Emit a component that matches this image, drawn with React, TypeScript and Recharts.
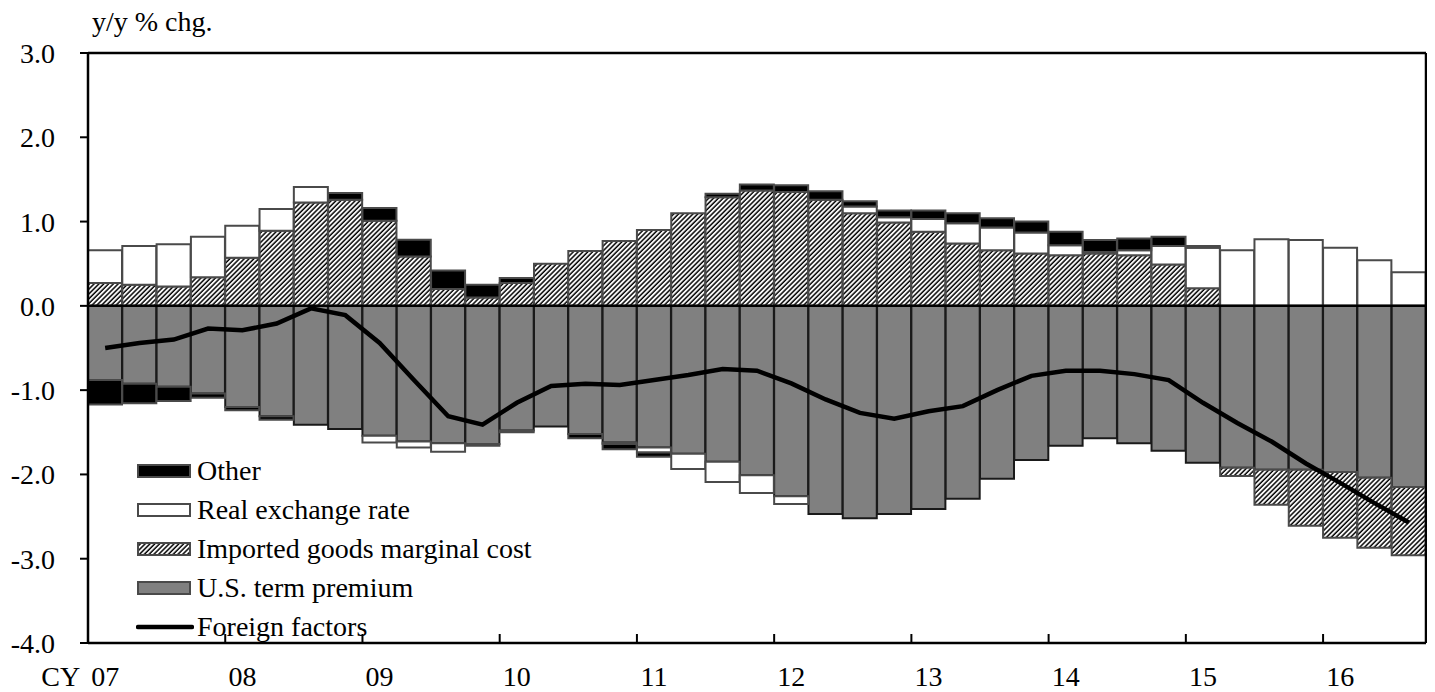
import {
  ComposedChart,
  Bar,
  Line,
  XAxis,
  YAxis,
  ReferenceLine,
} from "recharts";

// quarters 2007Q1 .. 2016Q3
const quarters = [
  "07Q1", "07Q2", "07Q3", "07Q4",
  "08Q1", "08Q2", "08Q3", "08Q4",
  "09Q1", "09Q2", "09Q3", "09Q4",
  "10Q1", "10Q2", "10Q3", "10Q4",
  "11Q1", "11Q2", "11Q3", "11Q4",
  "12Q1", "12Q2", "12Q3", "12Q4",
  "13Q1", "13Q2", "13Q3", "13Q4",
  "14Q1", "14Q2", "14Q3", "14Q4",
  "15Q1", "15Q2", "15Q3", "15Q4",
  "16Q1", "16Q2", "16Q3",
];

const yearTicks = ["07", "08", "09", "10", "11", "12", "13", "14", "15", "16"];
const yTicks = [-4, -3, -2, -1, 0, 1, 2, 3];

const termPremium = [
  -0.88, -0.925, -0.96, -1.04, -1.2, -1.31, -1.41, -1.46,
  -1.54, -1.61, -1.63, -1.64, -1.48, -1.43, -1.52, -1.62,
  -1.68, -1.755, -1.85, -2.01, -2.26, -2.47, -2.52, -2.47,
  -2.41, -2.29, -2.05, -1.83, -1.66, -1.57, -1.63, -1.72,
  -1.86, -1.92, -1.945, -1.945, -1.97, -2.04, -2.15,
];

const importedCost = [
  0.27, 0.25, 0.23, 0.34, 0.57, 0.89, 1.225, 1.26,
  1.01, 0.585, 0.2, 0.1, 0.27, 0.5, 0.65, 0.77,
  0.9, 1.1, 1.29, 1.37, 1.35, 1.26, 1.1, 0.99,
  0.88, 0.74, 0.66, 0.62, 0.6, 0.62, 0.6, 0.49,
  0.21, -0.1, -0.415, -0.665, -0.78, -0.83, -0.81,
];

const realExchange = [
  0.39, 0.46, 0.5, 0.48, 0.38, 0.26, 0.185, 0,
  -0.08, -0.07, -0.1, -0.02, -0.02, 0, 0, -0.02,
  -0.06, -0.18, -0.24, -0.21, -0.09, 0, 0.08, 0.06,
  0.15, 0.24, 0.27, 0.25, 0.12, 0.02, 0.06, 0.22,
  0.48, 0.66, 0.79, 0.78, 0.69, 0.54, 0.4,
];

const other = [
  -0.29, -0.23, -0.17, -0.05, -0.04, -0.04, 0, 0.08,
  0.15, 0.2, 0.22, 0.15, 0.06, 0, -0.05, -0.06,
  -0.05, 0, 0.04, 0.07, 0.08, 0.1, 0.06, 0.08,
  0.1, 0.12, 0.11, 0.13, 0.16, 0.14, 0.14, 0.11,
  0.02, 0, 0, 0, 0, 0, 0,
];

const foreignFactors = [
  -0.5, -0.44, -0.4, -0.27, -0.29, -0.21, -0.03, -0.11,
  -0.44, -0.88, -1.31, -1.41, -1.15, -0.95, -0.925, -0.94,
  -0.88, -0.82, -0.75, -0.77, -0.92, -1.11, -1.27, -1.34,
  -1.25, -1.19, -1.0, -0.83, -0.77, -0.77, -0.81, -0.88,
  -1.15, -1.39, -1.61, -1.87, -2.1, -2.34, -2.57,
];

const data = quarters.map((q, i) => ({
  q,
  term: termPremium[i],
  imported: importedCost[i],
  real: realExchange[i],
  other: other[i],
  total: foreignFactors[i],
}));

const FONT = "'Liberation Serif', 'Times New Roman', serif";
const W = 1427;
const H = 684;
const M = { top: 45, right: 9, left: 0, bottom: 0 };
const Y_W = 80;
const X_H = 49;
const PLOT_W = W - M.left - M.right - Y_W;
const BAND = PLOT_W / quarters.length;

function QuarterTick(props: any) {
  const { x, y, index } = props;
  if (index % 4 !== 0) return <g />;
  const label = yearTicks[index / 4];
  return (
    <g>
      {index > 0 && (
        <line x1={x - BAND / 2} x2={x - BAND / 2} y1={y} y2={y - 9} stroke="#000" strokeWidth={2} />
      )}
      <text x={x} y={y + 43} textAnchor="middle" fontSize={28} fontFamily={FONT} fill="#000">
        {label}
      </text>
      {index === 0 && (
        <text x={x - 25} y={y + 43} textAnchor="end" fontSize={28} fontFamily={FONT} fill="#000">
          CY
        </text>
      )}
    </g>
  );
}

const legendItems = [
  { name: "Other", kind: "other" },
  { name: "Real exchange rate", kind: "real" },
  { name: "Imported goods marginal cost", kind: "imported" },
  { name: "U.S. term premium", kind: "term" },
  { name: "Foreign factors", kind: "line" },
];

function Swatch({ kind }: { kind: string }) {
  if (kind === "line") {
    return (
      <svg width={58} height={12}>
        <line x1={2} x2={56} y1={6} y2={6} stroke="#000" strokeWidth={4.5} strokeLinecap="round" />
      </svg>
    );
  }
  const fill =
    kind === "other" ? "#000" : kind === "real" ? "#fff" : kind === "term" ? "#808080" : "url(#hatchLegend)";
  return (
    <svg width={58} height={14}>
      <defs>
        <pattern id="hatchLegend" patternUnits="userSpaceOnUse" width={3.4} height={3.4} patternTransform="rotate(45)">
          <rect width={3.4} height={3.4} fill="#fff" />
          <line x1={1} x2={1} y1={0} y2={3.4} stroke="#000" strokeWidth={1.5} />
        </pattern>
      </defs>
      <rect x={2} y={1} width={52} height={12} fill={fill} stroke="#4a4a4a" strokeWidth={2} />
    </svg>
  );
}

function ChartLegend() {
  return (
    <div style={{ position: "absolute", left: 128, top: 443 }}>
      {legendItems.map((it) => (
        <div key={it.name} style={{ display: "flex", alignItems: "center", height: 39 }}>
          <Swatch kind={it.kind} />
          <span style={{ fontFamily: FONT, fontSize: 28, color: "#000", lineHeight: "28px", marginLeft: 3, whiteSpace: "nowrap" }}>
            {it.name}
          </span>
        </div>
      ))}
    </div>
  );
}

export default function App() {
  return (
    <div style={{ position: "relative", width: W, height: H }}>
      <div
        style={{
          position: "absolute",
          left: 84,
          top: 0,
          fontFamily: FONT,
          fontSize: 28,
          lineHeight: "28px",
          color: "#000",
          whiteSpace: "nowrap",
        }}
      >
        y/y % chg.
      </div>
      <ComposedChart
        width={W}
        height={H}
        data={data}
        margin={M}
        stackOffset="sign"
        barCategoryGap={0}
        barGap={0}
      >
        <defs>
          <pattern id="hatch" patternUnits="userSpaceOnUse" width={3.4} height={3.4} patternTransform="rotate(45)">
            <rect width={3.4} height={3.4} fill="#fff" />
            <line x1={1} x2={1} y1={0} y2={3.4} stroke="#000" strokeWidth={1.5} />
          </pattern>
        </defs>
        <XAxis
          dataKey="q"
          interval={0}
          height={X_H}
          tickSize={0}
          tickMargin={0}
          tickLine={false}
          axisLine={{ stroke: "#000", strokeWidth: 2.5 }}
          tick={(p: any) => <QuarterTick {...p} />}
        />
        <YAxis
          domain={[-4, 3]}
          ticks={yTicks}
          width={Y_W}
          tickSize={8}
          tickMargin={25}
          tickFormatter={(v: number) => v.toFixed(1)}
          tick={{ fontSize: 28, fontFamily: FONT, fill: "#000" }}
          tickLine={{ stroke: "#000", strokeWidth: 2 }}
          axisLine={{ stroke: "#000", strokeWidth: 2.5 }}
          allowDataOverflow
        />
        <Bar dataKey="term" name="U.S. term premium" stackId="s" fill="#808080" stroke="#1a1a1a" strokeWidth={2} isAnimationActive={false} />
        <Bar dataKey="imported" name="Imported goods marginal cost" stackId="s" fill="url(#hatch)" stroke="#4a4a4a" strokeWidth={2} isAnimationActive={false} />
        <Bar dataKey="real" name="Real exchange rate" stackId="s" fill="#fff" stroke="#4a4a4a" strokeWidth={2} isAnimationActive={false} />
        <Bar dataKey="other" name="Other" stackId="s" fill="#000" stroke="#4a4a4a" strokeWidth={2} isAnimationActive={false} />
        <ReferenceLine y={0} stroke="#000" strokeWidth={2.5} />
        <ReferenceLine y={3} stroke="#000" strokeWidth={2.5} />
        <ReferenceLine x={quarters[quarters.length - 1]} position="end" stroke="#000" strokeWidth={2.5} />
        <Line dataKey="total" name="Foreign factors" type="linear" stroke="#000" strokeWidth={4.5} dot={false} isAnimationActive={false} />
      </ComposedChart>
      <ChartLegend />
    </div>
  );
}
